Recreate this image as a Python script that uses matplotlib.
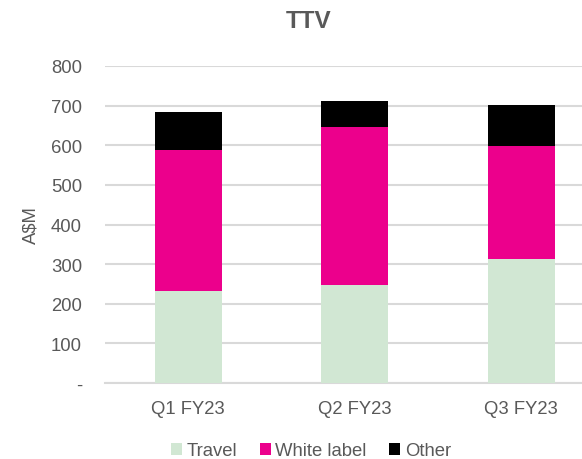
import matplotlib
matplotlib.use("Agg")
import matplotlib.pyplot as plt
import numpy as np

plt.rcParams['font.family'] = ['Liberation Sans', 'DejaVu Sans']

categories = ["Q1 FY23", "Q2 FY23", "Q3 FY23"]
travel = [232, 248, 313]
white_label = [356, 398, 286]
other = [97, 66, 103]
series_names = ["Travel", "White label", "Other"]
colors = ["#D1E7D3", "#EC008C", "#000000"]
yticks = [0, 100, 200, 300, 400, 500, 600, 700, 800]
ytick_labels = ["-", "100", "200", "300", "400", "500", "600", "700", "800"]

FS = 13.3
GREY = "#595959"

fig = plt.figure(figsize=(5.82, 4.6), dpi=100)
ax = fig.add_axes([105/582, 76/460, 499.5/582, 317/460])

x = np.arange(len(categories))
bottom = np.zeros(len(categories))
handles = []
for vals, name, c in zip([travel, white_label, other], series_names, colors):
    b = ax.bar(x, vals, width=0.4, bottom=bottom, color=c, label=name, zorder=3)
    handles.append(b)
    bottom += np.array(vals)

ax.set_xlim(-0.5, 2.5)
ax.set_ylim(0, 800)
ax.set_yticks(yticks)
ax.set_yticklabels(ytick_labels)
ax.set_xticks(x)
ax.set_xticklabels(categories)
ax.tick_params(axis='y', length=0, pad=16.5, labelsize=FS, labelcolor=GREY)
ax.tick_params(axis='x', length=0, pad=12, labelsize=FS, labelcolor=GREY)
ax.grid(axis='y', color="#D9D9D9", linewidth=1.5, zorder=0)
for s in ['top', 'right', 'left']:
    ax.spines[s].set_visible(False)
ax.spines['bottom'].set_color("#D9D9D9")
ax.spines['bottom'].set_linewidth(1.5)
ax.set_ylabel("A\\$M", fontsize=FS, color=GREY)
ax.yaxis.set_label_coords((39 - 105) / 499.5, 0.5)

fig.text(309/582, 1 - 22/460, "TTV", ha='center', va='center',
         fontsize=17.5, fontweight='bold', color=GREY)

fig.legend(handles=handles, labels=series_names, loc='center',
           bbox_to_anchor=(311/582, 1 - 452/460), ncol=3, frameon=False,
           fontsize=FS, handlelength=0.6, handleheight=0.6, handletextpad=0.25,
           columnspacing=1.2, labelcolor=GREY)

fig.savefig("out.png", dpi=100)
